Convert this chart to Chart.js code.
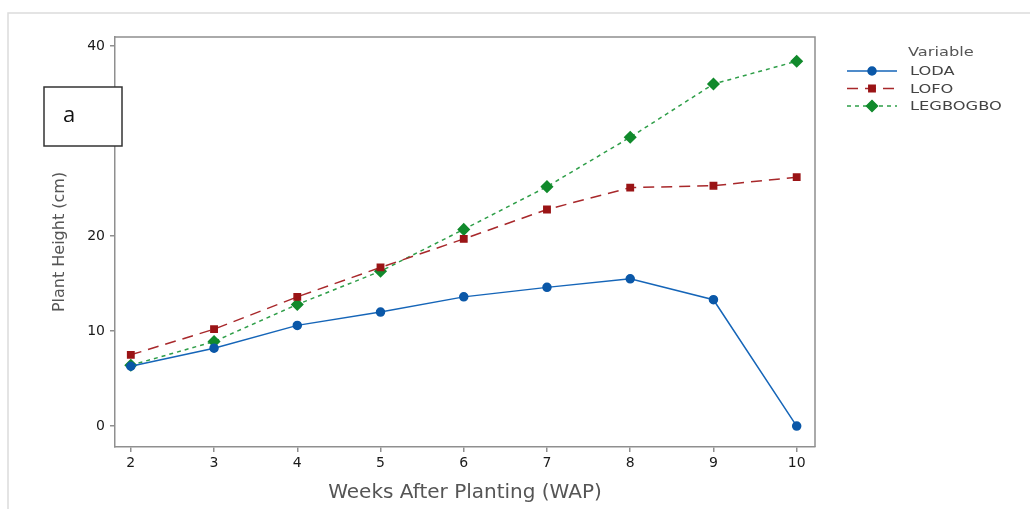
<!DOCTYPE html>
<html>
<head>
<meta charset="utf-8">
<script src="https://cdn.jsdelivr.net/npm/chart.js@4/dist/chart.umd.min.js"></script>
<style>
  html, body { margin: 0; padding: 0; background: #fff; }
  canvas { display: block; }
</style>
</head>
<body>
<canvas id="myChart" width="1030" height="509"></canvas>
<script>
// Plant height per week, three varieties
const weeks = [2, 3, 4, 5, 6, 7, 8, 9, 10];
const loda = [6.3, 8.2, 10.6, 12.0, 13.6, 14.6, 15.5, 13.3, 0];
const lofo = [7.5, 10.2, 13.6, 16.7, 19.7, 22.8, 25.1, 25.3, 26.2];
const legbogbo = [6.4, 8.9, 12.8, 16.3, 20.7, 25.2, 30.4, 36.0, 38.4];
const xTicks = [2, 3, 4, 5, 6, 7, 8, 9, 10];
const yTicks = [0, 10, 20, 30, 40];

const axisColor = '#8f8f8f';
const fontFamily = "'DejaVu Sans', 'Noto Sans', sans-serif";

function toPoints(values) {
    return weeks.map((w, i) => ({ x: w, y: values[i] }));
}

// wide legend lettering
function wideText(ctx, text, x, y, stretch) {
    ctx.save();
    ctx.translate(x, y);
    ctx.scale(stretch, 1);
    ctx.fillText(text, 0, 0);
    ctx.restore();
}

// Frame, top/right plot border, legend and the panel letter
const decorPlugin = {
    id: 'decor',
    beforeDraw(chart) {
        const ctx = chart.ctx;
        ctx.save();
        ctx.strokeStyle = '#dcdcdc';
        ctx.lineWidth = 1.5;
        ctx.beginPath();
        ctx.moveTo(8, 509);
        ctx.lineTo(8, 13);
        ctx.lineTo(1030, 13);
        ctx.stroke();
        ctx.restore();
    },
    afterDraw(chart) {
        const ctx = chart.ctx;
        const area = chart.chartArea;
        ctx.save();
        ctx.strokeStyle = axisColor;
        ctx.lineWidth = 1.5;
        ctx.beginPath();
        ctx.moveTo(area.left, area.top);
        ctx.lineTo(area.right, area.top);
        ctx.lineTo(area.right, area.bottom);
        ctx.stroke();

        // legend
        ctx.font = '13px ' + fontFamily;
        ctx.textBaseline = 'middle';
        ctx.textAlign = 'left';
        ctx.fillStyle = '#555';
        wideText(ctx, 'Variable', 908, 53, 1.25);
        chart.data.datasets.forEach((ds, i) => {
            const y = 71 + i * 17.5;
            ctx.strokeStyle = ds.borderColor;
            ctx.lineWidth = ds.borderWidth;
            ctx.setLineDash(ds.borderDash || []);
            ctx.beginPath();
            ctx.moveTo(847, y);
            ctx.lineTo(897, y);
            ctx.stroke();
            ctx.setLineDash([]);
            ctx.fillStyle = ds.pointBackgroundColor;
            ctx.strokeStyle = ds.pointBorderColor;
            Chart.helpers.drawPoint(ctx, {
                pointStyle: ds.pointStyle,
                radius: ds.pointRadius,
                rotation: 0,
                borderWidth: 1
            }, 872, y);
            ctx.fillStyle = '#444';
            wideText(ctx, ds.label, 910, y + 1, 1.25);
        });

        // panel letter box
        ctx.fillStyle = '#fff';
        ctx.fillRect(44, 87, 78, 59);
        ctx.strokeStyle = '#333';
        ctx.lineWidth = 1.5;
        ctx.strokeRect(44, 87, 78, 59);
        ctx.fillStyle = '#111';
        ctx.font = "22px 'Open Sans', sans-serif";
        ctx.textAlign = 'left';
        ctx.fillText('a', 63, 116);
        ctx.restore();
    }
};

const ctx = document.getElementById('myChart').getContext('2d');
const chart = new Chart(ctx, {
    type: 'line',
    data: {
        datasets: [{
            label: 'LODA',
            data: toPoints(loda),
            borderColor: '#1565b8',
            backgroundColor: '#0b58a8',
            borderWidth: 1.5,
            pointStyle: 'circle',
            pointRadius: 4,
            pointBorderColor: '#0b58a8',
            pointBackgroundColor: '#0b58a8'
        }, {
            label: 'LOFO',
            data: toPoints(lofo),
            borderColor: '#a8282b',
            backgroundColor: '#9a1416',
            borderWidth: 1.5,
            borderDash: [11, 7],
            pointStyle: 'rect',
            pointRadius: 4.5,
            pointBorderColor: '#9a1416',
            pointBackgroundColor: '#9a1416'
        }, {
            label: 'LEGBOGBO',
            data: toPoints(legbogbo),
            borderColor: '#2e9e48',
            backgroundColor: '#118a2c',
            borderWidth: 1.5,
            borderDash: [4, 4],
            pointStyle: 'rectRot',
            pointRadius: 5.5,
            pointBorderColor: '#118a2c',
            pointBackgroundColor: '#118a2c'
        }]
    },
    options: {
        responsive: false,
        animation: false,
        layout: { padding: { left: 30, top: 37, right: 215, bottom: 0 } },
        plugins: {
            legend: { display: false },
            tooltip: { enabled: false }
        },
        scales: {
            x: {
                type: 'linear',
                min: 1.81,
                max: 10.22,
                afterBuildTicks: (scale) => { scale.ticks = xTicks.map(v => ({ value: v })); },
                afterFit: (scale) => { scale.height = 62; },
                grid: { drawOnChartArea: false, drawTicks: true, tickLength: 5, color: axisColor, lineWidth: 1.5 },
                border: { color: axisColor, width: 1.5 },
                ticks: { color: '#1a1a1a', font: { family: fontFamily, size: 14 }, padding: 3, maxRotation: 0 },
                title: {
                    display: true,
                    text: 'Weeks After Planting (WAP)',
                    color: '#555',
                    font: { family: fontFamily, size: 20 },
                    padding: { top: 4 }
                }
            },
            y: {
                min: -2.2,
                max: 40.95,
                afterBuildTicks: (scale) => { scale.ticks = yTicks.map(v => ({ value: v })); },
                afterFit: (scale) => { scale.width = 85; },
                grid: { drawOnChartArea: false, drawTicks: true, tickLength: 5, color: axisColor, lineWidth: 1.5 },
                border: { color: axisColor, width: 1.5 },
                ticks: { color: '#1a1a1a', font: { family: fontFamily, size: 14 }, padding: 5 },
                title: {
                    display: true,
                    text: 'Plant Height (cm)',
                    color: '#555',
                    font: { family: fontFamily, size: 16 },
                    padding: { top: 20 }
                }
            }
        }
    },
    plugins: [decorPlugin]
});
</script>
</body>
</html>
